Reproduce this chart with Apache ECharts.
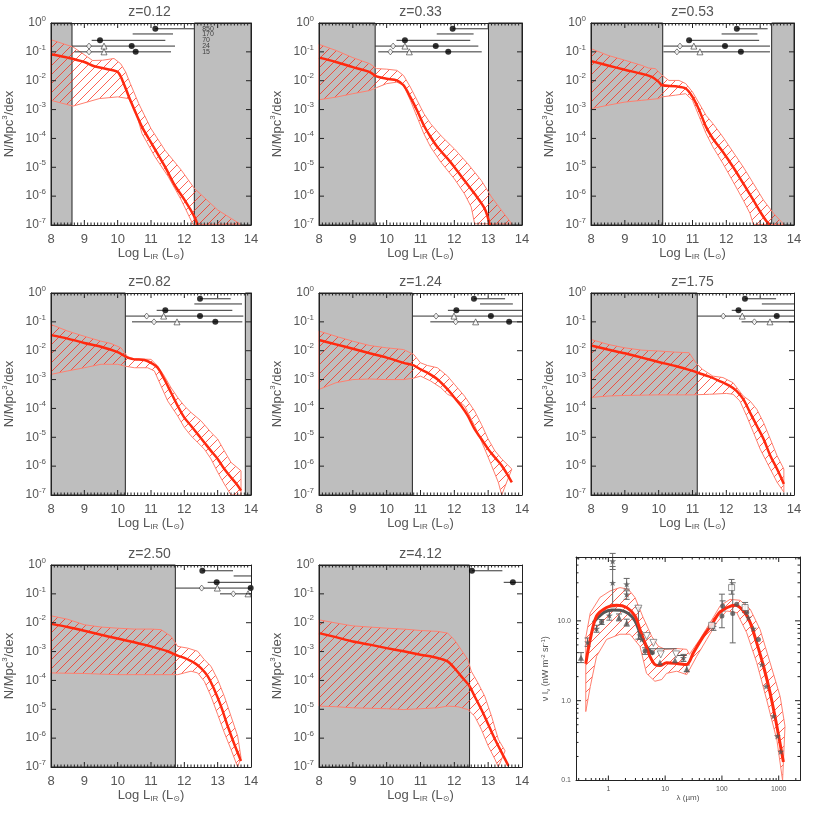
<!DOCTYPE html>
<html>
<head>
<meta charset="utf-8">
<script src="https://cdn.jsdelivr.net/npm/echarts@6/dist/echarts.min.js"></script>
</head>
<body style="margin:0;background:#fff">
<div id="container" style="width:814px;height:814px"></div>
<script>
// ---- luminosity function panels: values, y in log10(N/Mpc^3/dex) ----
var zLabels = ['z=0.12', 'z=0.33', 'z=0.53', 'z=0.82', 'z=1.24', 'z=1.75', 'z=2.50', 'z=4.12'];
var rowY = [-0.2, -0.38, -0.6, -0.8, -1.0];
var rowNames = ['850', '170', '70', '24', '15'];

var shadeRanges = [
  [[8, 8.63], [12.3, 14]],
  [[8, 9.66], [13.01, 14]],
  [[8, 10.12], [13.34, 14]],
  [[8, 10.23], [13.83, 14]],
  [[8, 10.76]],
  [[8, 11.14]],
  [[8, 11.73]],
  [[8, 12.45]]
];

var midCurves = [
  [[8,-1.08],[8.5,-1.2],[9,-1.35],[9.3,-1.5],[9.7,-1.6],[10,-1.7],[10.14,-1.98],[10.38,-2.68],[10.73,-3.6],[11.02,-4.18],[11.42,-4.98],[11.71,-5.62],[12.01,-6.14],[12.3,-6.71],[12.4,-7]],
  [[8,-1.2],[8.5,-1.35],[9,-1.53],[9.5,-1.7],[9.7,-1.85],[10,-1.93],[10.3,-1.99],[10.5,-2.16],[10.7,-2.57],[10.9,-3.03],[11.1,-3.55],[11.3,-3.95],[11.5,-4.3],[11.8,-4.7],[12,-4.99],[12.3,-5.46],[12.6,-5.92],[12.9,-6.44],[13.05,-7]],
  [[8,-1.32],[8.5,-1.47],[9,-1.62],[9.5,-1.76],[9.8,-1.87],[10,-2.04],[10.1,-2.16],[10.5,-2.19],[10.8,-2.27],[11,-2.56],[11.2,-3.02],[11.4,-3.6],[11.6,-4],[11.9,-4.47],[12.2,-4.99],[12.5,-5.56],[12.8,-6.14],[13,-6.54],[13.2,-6.89],[13.3,-7]],
  [[8,-1.46],[8.5,-1.58],[9,-1.73],[9.5,-1.86],[10,-2.05],[10.3,-2.24],[10.5,-2.3],[10.8,-2.32],[11,-2.42],[11.2,-2.59],[11.4,-2.99],[11.6,-3.45],[11.8,-3.91],[12,-4.32],[12.2,-4.6],[12.4,-4.89],[12.6,-5.18],[12.8,-5.47],[13,-5.75],[13.2,-6.1],[13.4,-6.39],[13.6,-6.67],[13.7,-6.85]],
  [[8,-1.63],[8.5,-1.78],[9,-1.93],[9.5,-2.09],[10,-2.24],[10.5,-2.42],[10.8,-2.51],[11,-2.65],[11.2,-2.76],[11.5,-2.99],[11.8,-3.34],[12,-3.62],[12.2,-3.91],[12.4,-4.26],[12.6,-4.72],[12.8,-5.06],[13,-5.41],[13.2,-5.7],[13.4,-5.98],[13.7,-6.56]],
  [[8,-1.82],[8.5,-1.96],[9,-2.09],[9.5,-2.24],[10,-2.39],[10.5,-2.53],[11,-2.7],[11.2,-2.78],[11.5,-2.9],[11.8,-3.05],[12.1,-3.22],[12.3,-3.39],[12.5,-3.68],[12.7,-4.14],[12.9,-4.6],[13.1,-5.06],[13.3,-5.64],[13.5,-6.1],[13.7,-6.62]],
  [[8,-2.04],[8.5,-2.15],[9,-2.28],[9.5,-2.42],[10,-2.55],[10.5,-2.68],[11,-2.82],[11.5,-2.99],[11.8,-3.14],[12,-3.22],[12.3,-3.39],[12.5,-3.57],[12.7,-3.85],[12.9,-4.32],[13.1,-4.89],[13.3,-5.58],[13.5,-6.21],[13.7,-6.79]],
  [[8,-2.36],[8.5,-2.5],[9,-2.65],[9.5,-2.76],[10,-2.88],[10.5,-2.99],[11,-3.11],[11.5,-3.22],[11.8,-3.34],[12,-3.57],[12.2,-3.85],[12.45,-4.2],[12.6,-4.55],[12.8,-5.01],[13,-5.52],[13.2,-6.04],[13.4,-6.5],[13.6,-6.96]]
];

var upperEdges = [
  [[8,-0.58],[8.66,-0.83],[9.25,-1.3],[9.55,-1.29],[9.89,-1.23],[10.09,-1.41],[10.24,-1.7],[10.38,-2.1],[10.63,-2.79],[11,-3.66],[11.42,-4.41],[11.91,-5.1],[12.3,-5.73],[13,-6.48],[13.68,-6.97]],
  [[8,-0.74],[8.5,-0.95],[9,-1.2],[9.5,-1.41],[9.7,-1.58],[10,-1.6],[10.3,-1.64],[10.5,-1.82],[10.7,-2.22],[10.9,-2.68],[11.1,-3.14],[11.3,-3.49],[11.6,-3.9],[12,-4.36],[12.4,-4.88],[12.8,-5.46],[13.1,-6.03],[13.4,-6.5],[13.7,-6.96]],
  [[8,-0.89],[8.5,-1.12],[9,-1.29],[9.5,-1.47],[9.7,-1.56],[9.9,-1.58],[10.1,-1.81],[10.3,-1.99],[10.6,-1.99],[10.8,-2.1],[11,-2.39],[11.2,-2.79],[11.4,-3.2],[11.6,-3.48],[11.9,-3.95],[12.2,-4.47],[12.5,-4.99],[12.8,-5.56],[13.1,-6.14],[13.4,-6.6],[13.7,-6.98]],
  [[8,-1.09],[8.5,-1.32],[9,-1.5],[9.5,-1.67],[9.8,-1.75],[10.1,-1.9],[10.3,-2.21],[10.5,-2.28],[11,-2.3],[11.2,-2.53],[11.4,-2.88],[11.6,-3.28],[11.8,-3.62],[12,-3.91],[12.2,-4.14],[12.5,-4.43],[12.8,-4.83],[13,-5.06],[13.2,-5.47],[13.4,-5.87],[13.7,-6.16]],
  [[8,-1.32],[8.5,-1.5],[9,-1.67],[9.5,-1.82],[10,-1.9],[10.5,-1.96],[10.8,-2.13],[11,-2.42],[11.2,-2.51],[11.5,-2.59],[11.8,-2.88],[12,-3.16],[12.3,-3.57],[12.6,-4.09],[12.8,-4.55],[13,-5.06],[13.2,-5.47],[13.4,-5.75],[13.7,-6.1]],
  [[8,-1.61],[8.5,-1.78],[9,-1.9],[9.5,-1.98],[10,-2.01],[10.5,-2.05],[10.9,-2.07],[11.1,-2.42],[11.3,-2.65],[11.6,-2.88],[11.9,-2.93],[12.2,-3.11],[12.5,-3.57],[12.7,-3.74],[12.9,-4.03],[13.1,-4.49],[13.3,-5.06],[13.5,-5.64],[13.7,-6.1]],
  [[8,-1.76],[8.5,-1.88],[9,-2.07],[9.5,-2.15],[10,-2.19],[10.5,-2.22],[11,-2.22],[11.3,-2.24],[11.6,-2.47],[11.8,-2.82],[12.1,-2.88],[12.4,-2.99],[12.6,-3.28],[12.8,-3.51],[13,-3.97],[13.2,-4.55],[13.4,-5.24],[13.6,-5.93],[13.7,-6.67]],
  [[8,-1.9],[8.5,-2.01],[9,-2.11],[9.5,-2.15],[10,-2.19],[10.5,-2.22],[11,-2.27],[11.5,-2.3],[11.8,-2.36],[12,-2.59],[12.2,-2.93],[12.4,-3.28],[12.5,-3.68],[12.7,-4.09],[12.9,-4.55],[13.1,-5.24],[13.3,-6.04],[13.5,-6.44]]
];

var lowerEdges = [
  [[8,-2.68],[8.66,-2.88],[9.45,-2.62],[10,-2.56],[10.33,-2.62],[10.53,-3.02],[10.73,-3.83],[11.12,-4.64],[11.52,-5.33],[11.91,-6.14],[12.26,-6.98]],
  [[8,-2.66],[8.5,-2.57],[9,-2.45],[9.5,-2.34],[9.7,-2.24],[10,-2.1],[10.3,-2.05],[10.5,-2.16],[10.7,-2.68],[10.9,-3.26],[11.1,-3.84],[11.3,-4.3],[11.6,-4.82],[12,-5.4],[12.3,-5.92],[12.5,-6.38],[12.6,-6.96]],
  [[8,-2.97],[8.5,-2.85],[9,-2.74],[9.5,-2.68],[10,-2.62],[10.1,-2.56],[10.5,-2.5],[10.8,-2.45],[11,-2.68],[11.2,-3.25],[11.4,-3.83],[11.6,-4.29],[11.9,-4.87],[12.2,-5.5],[12.5,-6.14],[12.7,-6.6],[12.8,-6.98]],
  [[8,-2.82],[8.5,-2.7],[9,-2.59],[9.5,-2.47],[10,-2.47],[10.2,-2.53],[10.5,-2.59],[10.9,-2.59],[11.1,-2.7],[11.3,-3.22],[11.5,-3.74],[11.8,-4.26],[12,-4.66],[12.2,-4.95],[12.4,-5.18],[12.6,-5.41],[12.8,-5.75],[13,-6.21],[13.2,-6.62],[13.4,-7],[13.7,-7]],
  [[8,-3.34],[8.5,-3.11],[9,-3.0],[9.5,-2.98],[10,-3.0],[10.5,-3.0],[10.8,-2.95],[11,-2.88],[11.3,-3.05],[11.6,-3.28],[11.8,-3.51],[12,-3.62],[12.3,-3.91],[12.6,-4.6],[12.9,-5.41],[13.1,-5.98],[13.3,-6.56],[13.4,-7]],
  [[8,-3.62],[8.5,-3.57],[9,-3.55],[10,-3.53],[11,-3.53],[11.5,-3.51],[12,-3.48],[12.2,-3.51],[12.4,-3.74],[12.6,-4.26],[12.8,-4.83],[13,-5.41],[13.2,-5.87],[13.4,-6.33],[13.5,-6.56],[13.7,-6.9]],
  [[8,-3.74],[9,-3.76],[10,-3.8],[11,-3.8],[11.8,-3.8],[12,-3.74],[12.2,-3.68],[12.4,-3.74],[12.6,-4.03],[12.8,-4.55],[13,-5.18],[13.2,-5.81],[13.4,-6.39],[13.6,-7]],
  [[8,-4.89],[8.5,-4.91],[9,-4.95],[10,-4.98],[10.5,-5.01],[11,-4.98],[11.5,-4.95],[11.8,-4.89],[12.1,-4.91],[12.4,-5.01],[12.6,-5.24],[12.8,-5.7],[13,-6.27],[13.2,-6.73],[13.3,-7]]
];

// survey limits: [row, from, to]
var limitLines = [
  [[0,11.13,12.3],[1,10.45,11.66],[2,9.22,11.43],[3,8.63,11.72],[4,8.7,11.6]],
  [[0,11.95,13.01],[1,11.48,12.57],[2,10.29,12.47],[3,9.66,12.71],[4,9.75,12.81]],
  [[0,12.31,13.22],[1,11.86,12.92],[2,10.9,12.97],[3,10.14,13.29],[4,10.14,13.29]],
  [[0,12.47,13.39],[1,12.3,13.73],[2,11.17,13.44],[3,10.23,13.77],[4,10.43,13.74]],
  [[0,12.58,13.5],[1,12.76,13.73],[2,11.81,14],[3,10.76,14],[4,11.29,14]],
  [[0,12.55,13.47],[1,13.05,14],[2,12.16,14],[3,11.14,14],[4,12.45,14]],
  [[0,12.54,13.46],[1,13.48,14],[2,12.7,14],[3,11.73,14],[4,13.07,14]],
  [[0,12.52,13.42],[2,13.46,14]]
];
// markers: [logL, row]
var circlePts = [
  [[11.13,0],[9.47,2],[10.42,3],[10.54,4]],
  [[11.95,0],[10.54,2],[11.45,3],[11.82,4]],
  [[12.31,0],[10.9,2],[11.96,3],[12.43,4]],
  [[12.47,0],[11.43,2],[12.47,3],[12.93,4]],
  [[12.58,0],[12.06,2],[13.08,3],[13.62,4]],
  [[12.55,0],[12.36,2],[13.49,3]],
  [[12.54,0],[12.97,2],[13.99,3]],
  [[12.52,0],[13.73,2]]
];
var diamondPts = [
  [[9.14,3],[9.14,4]], [[10.19,3],[10.11,4]], [[10.63,3],[10.54,4]], [[10.87,3],[11.09,4]],
  [[11.46,3],[12.04,4]], [[11.91,3],[12.83,4]], [[12.52,3],[13.47,4]], []
];
var trianglePts = [
  [[9.59,3],[9.59,4]], [[10.54,3],[10.67,4]], [[11.04,3],[11.22,4]], [[11.38,3],[11.78,4]],
  [[11.99,3],[12.63,4]], [[12.47,3],[13.29,4]], [[12.99,3],[13.91,4]], []
];

// ---- background light panel: lambda (um), nu I_nu (nW m^-2 sr^-1) ----
var sedMid = [[0.4,2.9],[0.48,5.9],[0.62,11.5],[0.93,14.7],[1.4,15.7],[2.1,14.7],[2.95,11.5],[3.6,7.8],[4.4,5.3],[5.4,3.6],[6.6,2.84],[8.1,2.75],[10.6,2.98],[16,2.92],[24,2.84],[31.5,4.0],[47,6.4],[66,9.0],[93,12.9],[170,15.7],[240,13.3],[315,9.5],[410,5.3],[540,2.7],[705,1.25],[930,0.475],[1210,0.17]];
var sedUpper = [[0.4,6.2],[0.48,12.6],[0.71,19.6],[1.07,23.7],[1.6,26.1],[2.25,24.9],[2.95,19.6],[4.1,11],[5.8,6.4],[7.6,4.8],[10,4.4],[16,4.5],[24,4.4],[26.7,3.8],[41,5.9],[62,9.5],[93,15.4],[139,18.6],[208,18.1],[315,14],[470,7.8],[705,3.0],[1060,1.13],[1290,0.48]];
var sedLower = [[0.4,0.73],[0.48,1.5],[0.62,3.6],[0.93,5.85],[1.6,6.8],[2.4,6.8],[3.6,4.8],[4.7,2.2],[6.6,1.75],[8.7,1.84],[10.6,2.2],[16,2.34],[24,2.12],[36,3.6],[54,5.85],[81,9.5],[121,13.3],[182,12.7],[273,7.1],[410,3.0],[613,1.03],[930,0.32],[1170,0.1]];
var sedGrey = [[0.54,9.5],[0.82,12.6],[1.15,13.7],[1.6,13.6],[2.25,12.4],[2.95,10],[3.6,7.1],[4.7,4.8],[6.2,3.8]];
// measurements: [lambda, value, errLow, errHigh]
var sedStars = [[0.43,5.4,4.8,6.1],[0.62,8.0,7.2,8.8],[1.04,11.7,10.2,13.2],[1.19,56,44,70],[1.19,30,15,48],[2.1,28.8,25,34],[2.1,21.5,18.6,23.8],[3.6,6.6,5.9,7.3],[3.87,5.85,null,null],[21,3.44,3.1,3.8],[71,8.45,7.6,9.3],[293,11,null,null],[358,8,null,null],[503,2.84,null,null],[600,1.51,null,null],[807,0.64,null,null],[948,0.36,null,null],[1086,0.23,null,null]];
var sedCircles = [[0.76,9.7,9.0,10.4],[4.43,4.2,3.8,4.6],[5.96,4.0,null,null],[103,15.4,13.3,17.8],[100,11.5,8.2,21.6],[155,12.4,5.3,30],[182,16.1,null,null],[273,12.7,null,null],[439,5.85,null,null]];
var sedTriangles = [[0.33,3.44,3.0,4.0],[1.54,11,10,12.2],[2.1,9.5,8.6,10.5],[8.1,3.0,null,null],[14.9,3.2,null,null],[24,2.5,2.3,2.8]];
var sedDownTriangles = [[3.38,14.2,5.9,14.6],[4.73,6.45,null,null],[6.2,5.3,null,null],[8.36,3.8,null,null],[15.6,3.8,null,null]];
var sedSquares = [[66,8.8,null,null],[148,26.1,21.6,33],[256,14.7,12.7,17]];
// horizontal bars: [lambdaFrom, lambdaTo, value]
var sedBars = [[5.4,16,4.47],[16,24,3.68]];

var F = 'Liberation Sans, DejaVu Sans, sans-serif';
var TXT = '#555';
var AX = '#222';
var myChart = echarts.init(document.getElementById('container'));

var hatch = (function () {
  var c = document.createElement('canvas');
  c.width = 9; c.height = 9;
  var g = c.getContext('2d');
  g.strokeStyle = 'rgba(255,35,15,0.9)';
  g.lineWidth = 0.8;
  g.beginPath();
  g.moveTo(-1, 10); g.lineTo(10, -1);
  g.moveTo(-1, 1); g.lineTo(1, -1);
  g.moveTo(8, 10); g.lineTo(10, 8);
  g.stroke();
  return c;
})();

// tick positions (frame decoration, IDL style on all four sides)
var lfXMajor = [9, 10, 11, 12, 13], lfYMajor = [-6, -5, -4, -3, -2, -1];
var lfXMinor = [];
for (var t = 81; t < 140; t++) { if (t % 10) lfXMinor.push(t / 10); }

var colLeft = [48, 319, 591], rowTop = [23, 293, 565], pw = 203, ph = 202;
var grids = [], xAxes = [], yAxes = [], series = [], graphics = [];

function lfX(i, pos, labels) {
  return {
    gridIndex: i, type: 'value', position: pos, min: 8, max: 14, interval: 1, z: 6,
    axisLine: { show: true, onZero: false, lineStyle: { color: AX, width: 1 } },
    axisTick: { show: false },
    splitLine: { show: false },
    axisLabel: { show: labels, color: TXT, fontSize: 13, margin: 8, fontFamily: F },
    name: labels ? '{a|Log L}{s|IR}{a| (L}{s|\u2299}{a|)}' : '',
    nameLocation: 'middle', nameGap: 21,
    nameTextStyle: { rich: {
      a: { fontSize: 13, color: TXT, fontFamily: F },
      s: { fontSize: 8, color: TXT, fontFamily: F, padding: [6, 0, 0, 0] }
    } }
  };
}
function lfY(i, pos, labels) {
  return {
    gridIndex: i, type: 'value', position: pos, min: -7, max: 0, interval: 1, z: 6,
    axisLine: { show: true, onZero: false, lineStyle: { color: AX, width: 1 } },
    axisTick: { show: false },
    splitLine: { show: false },
    axisLabel: {
      show: labels, margin: 5,
      formatter: function (v) { return '{b|10}{s|' + v + '}'; },
      rich: {
        b: { fontSize: 12, color: TXT, fontFamily: F },
        s: { fontSize: 8, color: TXT, fontFamily: F, padding: [0, 0, 9, 0] }
      }
    },
    name: labels ? '{a|N/Mpc}{u|3}{a|/dex}' : '',
    nameLocation: 'middle', nameGap: 33,
    nameTextStyle: { rich: {
      a: { fontSize: 13, color: TXT, fontFamily: F },
      u: { fontSize: 8, color: TXT, fontFamily: F, padding: [0, 0, 9, 0] }
    } }
  };
}

// ticks drawn inward on all four sides: item = [value, side(0 bottom,1 top,2 left,3 right), length]
function tickSeries(xa, ya, ext, xMaj, xMin, yMaj, yMin) {
  var data = [];
  [0, 1].forEach(function (s) {
    xMaj.forEach(function (v) { data.push([v, s, 5]); });
    xMin.forEach(function (v) { data.push([v, s, 2.5]); });
  });
  [2, 3].forEach(function (s) {
    yMaj.forEach(function (v) { data.push([v, s, 5]); });
    yMin.forEach(function (v) { data.push([v, s, 2.5]); });
  });
  return {
    type: 'custom', xAxisIndex: xa, yAxisIndex: ya, z: 8, silent: true, data: data,
    renderItem: function (p, api) {
      var v = api.value(0), s = api.value(1), len = api.value(2), a, b;
      if (s === 0) { a = api.coord([v, ext[2]]); b = [a[0], a[1] - len]; }
      else if (s === 1) { a = api.coord([v, ext[3]]); b = [a[0], a[1] + len]; }
      else if (s === 2) { a = api.coord([ext[0], v]); b = [a[0] + len, a[1]]; }
      else { a = api.coord([ext[1], v]); b = [a[0] - len, a[1]]; }
      return { type: 'line', shape: { x1: a[0], y1: a[1], x2: b[0], y2: b[1] },
        style: { stroke: AX, lineWidth: 1 } };
    }
  };
}

function shadeItem(p, api) {
  var a = api.coord([api.value(0), 0]);
  var b = api.coord([api.value(1), -7]);
  return { type: 'rect', shape: { x: a[0], y: a[1], width: b[0] - a[0], height: b[1] - a[1] },
    style: { fill: '#bebebe', stroke: AX, lineWidth: 1 } };
}
function bandSeries(xa, ya, up, lo, z) {
  return {
    type: 'custom', xAxisIndex: xa, yAxisIndex: ya, z: z, silent: true, data: [[up[0][0], up[0][1]]],
    renderItem: function (p, api) {
      var pts = up.map(function (d) { return api.coord(d); })
        .concat(lo.slice().reverse().map(function (d) { return api.coord(d); }));
      return { type: 'polygon', shape: { points: pts },
        style: { fill: { image: hatch, repeat: 'repeat' }, stroke: '#ff8070', lineWidth: 1 } };
    }
  };
}
function hLineItem(p, api) {
  var a = api.coord([api.value(0), api.value(1)]);
  var b = api.coord([api.value(2), api.value(1)]);
  return { type: 'line', shape: { x1: a[0], y1: a[1], x2: b[0], y2: b[1] },
    style: { stroke: '#333', lineWidth: 1 } };
}
function rowPts(arr) { return arr.map(function (c) { return [c[0], rowY[c[1]]]; }); }

zLabels.forEach(function (z, i) {
  var left = colLeft[i % 3], top = rowTop[Math.floor(i / 3)];
  grids.push({ left: left, top: top, width: pw, height: ph });
  var xa = xAxes.length, ya = yAxes.length;
  xAxes.push(lfX(i, 'bottom', true), lfX(i, 'top', false));
  yAxes.push(lfY(i, 'left', true), lfY(i, 'right', false));
  graphics.push({ type: 'text', x: left + pw / 2, y: top - 11,
    style: { text: z, fill: TXT, font: '14px ' + F, align: 'center', verticalAlign: 'middle' } });

  series.push({ type: 'custom', xAxisIndex: xa, yAxisIndex: ya, z: 1, silent: true,
    data: shadeRanges[i], renderItem: shadeItem });
  series.push(bandSeries(xa, ya, upperEdges[i], lowerEdges[i], 2));
  series.push({ type: 'custom', xAxisIndex: xa, yAxisIndex: ya, z: 3, silent: true,
    data: limitLines[i].map(function (l) { return [l[1], rowY[l[0]], l[2]]; }), renderItem: hLineItem });
  series.push({ type: 'line', xAxisIndex: xa, yAxisIndex: ya, z: 4, silent: true, data: midCurves[i],
    showSymbol: false, smooth: 0.3, lineStyle: { color: '#ff2a10', width: 2.5 } });
  series.push({ type: 'scatter', xAxisIndex: xa, yAxisIndex: ya, z: 5, silent: true, data: rowPts(circlePts[i]),
    symbol: 'circle', symbolSize: 6, itemStyle: { color: '#000' } });
  series.push({ type: 'scatter', xAxisIndex: xa, yAxisIndex: ya, z: 5, silent: true, data: rowPts(diamondPts[i]),
    symbol: 'diamond', symbolSize: [5, 6], itemStyle: { color: '#fff', borderColor: '#333', borderWidth: 0.8 } });
  series.push({ type: 'scatter', xAxisIndex: xa, yAxisIndex: ya, z: 5, silent: true, data: rowPts(trianglePts[i]),
    symbol: 'triangle', symbolSize: 6, itemStyle: { color: '#fff', borderColor: '#333', borderWidth: 0.8 } });
  series.push(tickSeries(xa, ya, [8, 14, -7, 0], lfXMajor, lfXMinor, lfYMajor, []));
  if (i === 0) {
    series.push({ type: 'scatter', xAxisIndex: xa, yAxisIndex: ya, z: 7, silent: true, symbolSize: 1,
      itemStyle: { color: 'rgba(0,0,0,0)' },
      data: rowNames.map(function (n, k) { return [12.52, rowY[k], n]; }),
      label: { show: true, position: 'right', distance: 0, fontSize: 7, color: AX, fontFamily: F,
        formatter: function (p) { return p.value[2]; } } });
  }
});

// ---- SED panel ----
var L = Math.log10;
var sedXMin = -0.57, sedXMax = 3.375, sedYMin = -1, sedYMax = 1.8;
var sedXMajor = [0, 1, 2, 3], sedYMajor = [-1, 0, 1];
var sedXMinor = [], sedYMinor = [];
for (var d = -1; d <= 3; d++) {
  for (var k = 2; k <= 9; k++) {
    var v = d + L(k);
    if (v > sedXMin && v < sedXMax) sedXMinor.push(v);
    if (v > sedYMin && v < sedYMax) sedYMinor.push(v);
  }
}
var G = grids.length;
grids.push({ left: 576, top: 557, width: 224, height: 223.5 });

function sedAxis(pos, isX, labels) {
  var ticks = isX ? sedXMajor : sedYMajor;
  var ax = {
    gridIndex: G, type: 'value', position: pos, z: 6,
    min: isX ? sedXMin : sedYMin, max: isX ? sedXMax : sedYMax,
    axisLine: { show: true, onZero: false, lineStyle: { color: AX, width: 1 } },
    axisTick: { show: false },
    splitLine: { show: false },
    axisLabel: { show: labels, customValues: ticks, color: TXT, fontSize: 7, margin: 5, fontFamily: F,
      formatter: isX ? function (v) { return String(Math.round(Math.pow(10, v))); }
                     : function (v) { return Math.pow(10, v).toFixed(1); } }
  };
  if (labels) {
    ax.nameLocation = 'middle';
    if (isX) {
      ax.name = '\u03bb (\u00b5m)'; ax.nameGap = 11;
      ax.nameTextStyle = { fontSize: 8, color: TXT, fontFamily: F };
    } else {
      ax.name = '{a|\u03bd I}{s|\u03bd}{a| (nW m}{u|-2}{a| sr}{u|-1}{a|)}'; ax.nameGap = 24;
      ax.nameTextStyle = { rich: {
        a: { fontSize: 9, color: TXT, fontFamily: F },
        s: { fontSize: 6, color: TXT, fontFamily: F, padding: [4, 0, 0, 0] },
        u: { fontSize: 6, color: TXT, fontFamily: F, padding: [0, 0, 6, 0] }
      } };
    }
  }
  return ax;
}
var sx = xAxes.length, sy = yAxes.length;
xAxes.push(sedAxis('bottom', true, true), sedAxis('top', true, false));
yAxes.push(sedAxis('left', false, true), sedAxis('right', false, false));

function toLog(arr) { return arr.map(function (p) { return [L(p[0]), L(p[1])]; }); }
var allPts = sedStars.concat(sedCircles, sedTriangles, sedDownTriangles, sedSquares);
var errData = allPts.filter(function (p) { return p[2] != null; })
  .map(function (p) { return [L(p[0]), L(p[2]), L(p[3])]; });

series.push(bandSeries(sx, sy, toLog(sedUpper), toLog(sedLower), 2));
series.push({ type: 'custom', xAxisIndex: sx, yAxisIndex: sy, z: 3, silent: true,
  data: sedBars.map(function (b) { return [L(b[0]), L(b[2]), L(b[1])]; }), renderItem: function (p, api) {
    var a = api.coord([api.value(0), api.value(1)]), b = api.coord([api.value(2), api.value(1)]);
    return { type: 'line', shape: { x1: a[0], y1: a[1], x2: b[0], y2: b[1] }, style: { stroke: '#555', lineWidth: 1 } };
  } });
series.push({ type: 'custom', xAxisIndex: sx, yAxisIndex: sy, z: 3, silent: true, data: errData,
  renderItem: function (p, api) {
    var lo = api.coord([api.value(0), api.value(1)]), hi = api.coord([api.value(0), api.value(2)]);
    var s = { stroke: '#666', lineWidth: 1 };
    return { type: 'group', children: [
      { type: 'line', shape: { x1: lo[0], y1: lo[1], x2: hi[0], y2: hi[1] }, style: s },
      { type: 'line', shape: { x1: lo[0] - 3, y1: lo[1], x2: lo[0] + 3, y2: lo[1] }, style: s },
      { type: 'line', shape: { x1: hi[0] - 3, y1: hi[1], x2: hi[0] + 3, y2: hi[1] }, style: s }
    ] };
  } });
series.push({ type: 'line', xAxisIndex: sx, yAxisIndex: sy, z: 4, silent: true, data: toLog(sedGrey),
  showSymbol: false, smooth: 0.3, lineStyle: { color: '#555', width: 3 } });
series.push({ type: 'line', xAxisIndex: sx, yAxisIndex: sy, z: 4, silent: true, data: toLog(sedMid),
  showSymbol: false, smooth: 0.3, lineStyle: { color: '#ff2a10', width: 3 } });
var starPath = 'path://M0,-10L2.35,-3.24L9.51,-3.09L3.8,1.24L5.88,8.09L0,4L-5.88,8.09L-3.8,1.24L-9.51,-3.09L-2.35,-3.24Z';
series.push({ type: 'scatter', xAxisIndex: sx, yAxisIndex: sy, z: 5, silent: true, data: toLog(sedStars),
  symbol: starPath, symbolKeepAspect: true, symbolSize: 7, itemStyle: { color: '#555' } });
series.push({ type: 'scatter', xAxisIndex: sx, yAxisIndex: sy, z: 5, silent: true, data: toLog(sedCircles),
  symbol: 'circle', symbolSize: 5, itemStyle: { color: '#555' } });
series.push({ type: 'scatter', xAxisIndex: sx, yAxisIndex: sy, z: 5, silent: true, data: toLog(sedTriangles),
  symbol: 'triangle', symbolSize: 6, itemStyle: { color: '#555' } });
series.push({ type: 'scatter', xAxisIndex: sx, yAxisIndex: sy, z: 5, silent: true, data: toLog(sedDownTriangles),
  symbol: 'triangle', symbolRotate: 180, symbolSize: 7, itemStyle: { color: '#fff', borderColor: '#555', borderWidth: 0.8 } });
series.push({ type: 'scatter', xAxisIndex: sx, yAxisIndex: sy, z: 5, silent: true, data: toLog(sedSquares),
  symbol: 'rect', symbolSize: 6, itemStyle: { color: '#fff', borderColor: '#555', borderWidth: 0.8 } });
series.push(tickSeries(sx, sy, [sedXMin, sedXMax, sedYMin, sedYMax], sedXMajor, sedXMinor, sedYMajor, sedYMinor));

myChart.setOption({
  animation: false,
  backgroundColor: '#fff',
  grid: grids,
  xAxis: xAxes,
  yAxis: yAxes,
  graphic: graphics,
  series: series
});
</script>
</body>
</html>
